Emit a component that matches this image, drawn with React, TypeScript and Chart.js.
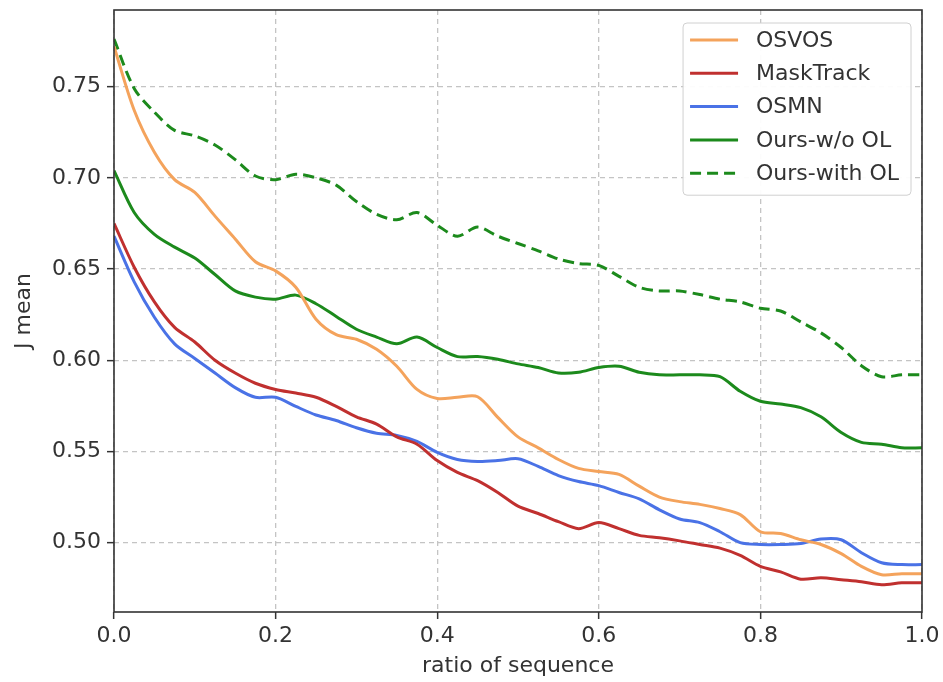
import React, { useEffect, useRef } from "react";
import { Chart, registerables } from "chart.js";

Chart.register(...registerables);

const ratio = [
  0, 0.025, 0.05, 0.075, 0.1, 0.125, 0.15, 0.175, 0.2, 0.225, 0.25, 0.275, 0.3, 0.325, 0.35, 0.375, 0.4,
  0.425, 0.45, 0.475, 0.5, 0.525, 0.55, 0.575, 0.6, 0.625, 0.65, 0.675, 0.7, 0.725, 0.75, 0.775, 0.8,
  0.825, 0.85, 0.875, 0.9, 0.925, 0.95, 0.975, 1.0,
];

const osvos = [
  0.772, 0.737, 0.714, 0.699, 0.692, 0.679, 0.6665, 0.654, 0.649, 0.64, 0.6225, 0.614, 0.6115, 0.606,
  0.5967, 0.584, 0.579, 0.5797, 0.58, 0.5687, 0.558, 0.552, 0.5456, 0.5407, 0.539, 0.5374, 0.531,
  0.525, 0.5225, 0.521, 0.5187, 0.5154, 0.506, 0.505, 0.5016, 0.499, 0.494, 0.487, 0.4824, 0.483, 0.483,
];

const maskTrack = [
  0.675, 0.651, 0.632, 0.618, 0.61, 0.6, 0.593, 0.5874, 0.584, 0.582, 0.5797, 0.5747, 0.569, 0.565,
  0.558, 0.554, 0.545, 0.5385, 0.534, 0.5275, 0.52, 0.516, 0.5115, 0.5077, 0.511, 0.5077, 0.504,
  0.5027, 0.501, 0.499, 0.497, 0.493, 0.487, 0.484, 0.48, 0.4808, 0.4797, 0.4786, 0.477, 0.478, 0.478,
];

const osmn = [
  0.668, 0.643, 0.6236, 0.609, 0.601, 0.593, 0.585, 0.5797, 0.5797, 0.5747, 0.57, 0.567, 0.563, 0.56,
  0.5588, 0.5555, 0.5495, 0.5456, 0.5445, 0.545, 0.546, 0.5418, 0.5368, 0.5335, 0.5313, 0.5275, 0.524,
  0.518, 0.513, 0.511, 0.506, 0.5, 0.499, 0.499, 0.4995, 0.502, 0.5016, 0.4945, 0.489, 0.488, 0.488,
];

const oursWithoutOL = [
  0.704, 0.681, 0.669, 0.662, 0.656, 0.647, 0.638, 0.6346, 0.6335, 0.6357, 0.631, 0.624, 0.617,
  0.6127, 0.609, 0.6127, 0.607, 0.602, 0.602, 0.6005, 0.598, 0.596, 0.593, 0.5934, 0.596, 0.5967,
  0.5934, 0.592, 0.592, 0.592, 0.591, 0.583, 0.5775, 0.576, 0.574, 0.569, 0.5604, 0.555, 0.554, 0.552, 0.552,
];

const oursWithOL = [
  0.776, 0.749, 0.736, 0.726, 0.723, 0.718, 0.71, 0.701, 0.699, 0.702, 0.7, 0.696, 0.687, 0.68, 0.677,
  0.681, 0.674, 0.668, 0.673, 0.668, 0.664, 0.66, 0.6555, 0.653, 0.652, 0.646, 0.64, 0.638, 0.638,
  0.636, 0.6335, 0.632, 0.6285, 0.627, 0.621, 0.615, 0.607, 0.597, 0.591, 0.592, 0.592,
];

const seriesNames = ["OSVOS", "MaskTrack", "OSMN", "Ours-w/o OL", "Ours-with OL"];
const xTicks = [0, 0.2, 0.4, 0.6, 0.8, 1.0];
const yTicks = [0.5, 0.55, 0.6, 0.65, 0.7, 0.75];
const xTitle = "ratio of sequence";
const yTitle = "J mean";

const FONT = "'DejaVu Sans', sans-serif";
const TEXT = "#333333";
const FS = 22;

const frameAndLegend = {
  id: "frameAndLegend",
  afterDatasetsDraw(chart: any) {
    const { ctx, chartArea } = chart;
    ctx.save();
    ctx.strokeStyle = "#333333";
    ctx.lineWidth = 1.6;
    ctx.setLineDash([]);
    ctx.strokeRect(chartArea.left, chartArea.top, chartArea.right - chartArea.left, chartArea.bottom - chartArea.top);

    ctx.font = `${FS}px ${FONT}`;
    const ds = chart.data.datasets;
    let maxW = 0;
    ds.forEach((d: any) => {
      maxW = Math.max(maxW, ctx.measureText(d.label).width);
    });
    const rowH = 33.3;
    const sampleW = 48;
    const padL = 7;
    const gap = 18;
    const padR = 12;
    const boxW = padL + sampleW + gap + maxW + padR;
    const boxRight = chartArea.right - 11;
    const boxLeft = boxRight - boxW;
    const boxTop = chartArea.top + 13;
    const boxH = 17 + rowH * (ds.length - 1) + 22;
    const r = 4;
    ctx.beginPath();
    ctx.moveTo(boxLeft + r, boxTop);
    ctx.lineTo(boxLeft + boxW - r, boxTop);
    ctx.quadraticCurveTo(boxLeft + boxW, boxTop, boxLeft + boxW, boxTop + r);
    ctx.lineTo(boxLeft + boxW, boxTop + boxH - r);
    ctx.quadraticCurveTo(boxLeft + boxW, boxTop + boxH, boxLeft + boxW - r, boxTop + boxH);
    ctx.lineTo(boxLeft + r, boxTop + boxH);
    ctx.quadraticCurveTo(boxLeft, boxTop + boxH, boxLeft, boxTop + boxH - r);
    ctx.lineTo(boxLeft, boxTop + r);
    ctx.quadraticCurveTo(boxLeft, boxTop, boxLeft + r, boxTop);
    ctx.closePath();
    ctx.fillStyle = "rgba(255,255,255,0.95)";
    ctx.fill();
    ctx.strokeStyle = "#d0d0d0";
    ctx.lineWidth = 1;
    ctx.stroke();

    ds.forEach((d: any, i: number) => {
      const y = boxTop + 17 + rowH * i;
      ctx.beginPath();
      ctx.strokeStyle = d.borderColor;
      ctx.lineWidth = d.borderWidth;
      ctx.setLineDash(d.borderDash || []);
      ctx.moveTo(boxLeft + padL, y);
      ctx.lineTo(boxLeft + padL + sampleW, y);
      ctx.stroke();
      ctx.setLineDash([]);
      ctx.fillStyle = TEXT;
      ctx.textBaseline = "middle";
      ctx.textAlign = "left";
      ctx.fillText(d.label, boxLeft + padL + sampleW + gap, y + 1);
    });
    ctx.restore();
  },
};

export default function App() {
  const ref = useRef<HTMLCanvasElement | null>(null);

  useEffect(() => {
    if (!ref.current) return;
    const mk = (vals: number[]) => ratio.map((x, i) => ({ x, y: vals[i] }));
    const colors = ["#f4a35c", "#c0302f", "#4a72e6", "#1c8a1c", "#1c8a1c"];
    const values = [osvos, maskTrack, osmn, oursWithoutOL, oursWithOL];
    const datasets = seriesNames.map((name, i) => ({
      label: name,
      data: mk(values[i]),
      borderColor: colors[i],
      backgroundColor: colors[i],
      borderWidth: 3,
      borderDash: i === 4 ? [11, 6] : [],
      pointRadius: 0,
      tension: 0.3,
      fill: false,
    }));

    const chart = new Chart(ref.current, {
      type: "line",
      data: { datasets },
      plugins: [frameAndLegend],
      options: {
        responsive: false,
        animation: false,
        layout: { padding: { left: 0, top: 10, right: 21, bottom: 0 } },
        plugins: { legend: { display: false }, tooltip: { enabled: false } },
        scales: {
          x: {
            type: "linear",
            min: 0,
            max: 1,
            afterBuildTicks: (axis: any) => {
              axis.ticks = xTicks.map((v) => ({ value: v }));
            },
            afterFit: (axis: any) => {
              axis.height = 70;
              axis.paddingLeft = 0;
              axis.paddingRight = 0;
            },
            ticks: {
              color: TEXT,
              font: { family: FONT, size: FS },
              padding: 4,
              maxRotation: 0,
              callback: (v: any) => Number(v).toFixed(1),
            },
            grid: {
              color: "#c4c4c4",
              lineWidth: 1.3,
              tickLength: 7,
              tickColor: "#333333",
              tickWidth: 1.5,
              tickBorderDash: [],
            },
            border: { display: false, dash: [5, 4] },
            title: {
              display: true,
              text: xTitle,
              color: TEXT,
              font: { family: FONT, size: FS },
              padding: { top: 0, bottom: 3 },
            },
          },
          y: {
            type: "linear",
            min: 0.462,
            max: 0.792,
            afterBuildTicks: (axis: any) => {
              axis.ticks = yTicks.map((v) => ({ value: v }));
            },
            afterFit: (axis: any) => {
              axis.width = 114;
              axis.paddingTop = 0;
              axis.paddingBottom = 0;
            },
            ticks: {
              color: TEXT,
              font: { family: FONT, size: FS },
              padding: 6,
              callback: (v: any) => Number(v).toFixed(2),
            },
            grid: {
              color: "#c4c4c4",
              lineWidth: 1.3,
              tickLength: 7,
              tickColor: "#333333",
              tickWidth: 1.5,
              tickBorderDash: [],
            },
            border: { display: false, dash: [5, 4] },
            title: {
              display: true,
              text: yTitle,
              color: TEXT,
              font: { family: FONT, size: FS },
              padding: { top: 11, bottom: 0 },
            },
          },
        },
      },
    } as any);
    return () => chart.destroy();
  }, []);

  return (
    <div style={{ position: "fixed", left: 0, top: 0, width: 943, height: 682, background: "#fff" }}>
      <canvas ref={ref} width={943} height={682} style={{ width: 943, height: 682, display: "block" }} />
    </div>
  );
}
